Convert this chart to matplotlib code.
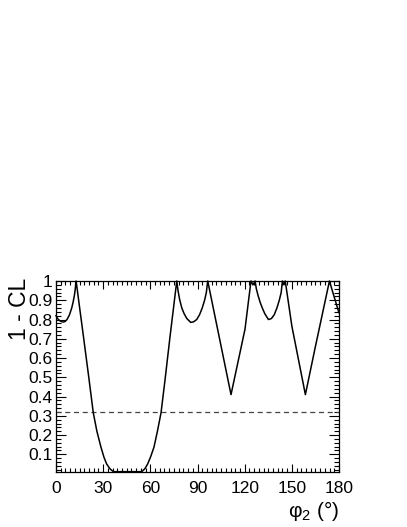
import numpy as np
import matplotlib
matplotlib.use("Agg")
import matplotlib.pyplot as plt
from matplotlib.ticker import MultipleLocator

plt.rcParams['font.family'] = ['Liberation Sans', 'DejaVu Sans']
plt.rcParams['mathtext.fontset'] = 'custom'
plt.rcParams['mathtext.rm'] = 'Liberation Sans'
plt.rcParams['mathtext.it'] = 'Liberation Sans'

# ── data ──
phi2 = [0, 1.0, 2.5, 3.8, 4.8, 5.8, 7.0, 8.5, 10.0, 11.0, 11.9, 12.8, 14.8,
        17.0, 19.0, 21.0, 23.7, 26.0, 28.6, 30.5, 32.2, 34.3, 36.5, 54.5,
        56.5, 58.3, 60.3, 62.3, 64.5, 66.8, 69.3, 72.5, 76.8, 77.6, 78.6,
        80.0, 81.5, 83.2, 85.7, 87.5, 89.5, 91.3, 93.0, 94.5, 95.6, 96.5,
        111.3, 120.2, 124.0, 125.3, 126.6, 127.4, 128.5, 129.8, 131.2, 132.8,
        135.1, 137.0, 138.8, 140.5, 142.0, 143.2, 144.0, 145.0, 145.8, 150.0,
        158.6, 164.8, 173.9, 179.6, 180]
one_minus_cl = [0.82, 0.805, 0.793, 0.788, 0.787, 0.79, 0.80, 0.823, 0.86, 0.895,
                0.935, 1.0, 0.875, 0.74, 0.615, 0.49, 0.316, 0.22, 0.137,
                0.085, 0.05, 0.025, 0.01, 0.01, 0.025, 0.05, 0.09, 0.137, 0.22,
                0.316, 0.484, 0.71, 1.0, 0.95, 0.905, 0.86, 0.83, 0.805, 0.785,
                0.788, 0.80, 0.825, 0.86, 0.9, 0.94, 1.0, 0.41, 0.75, 1.0, 0.98,
                1.0, 0.96, 0.925, 0.89, 0.86, 0.83, 0.80, 0.805, 0.825, 0.86,
                0.9, 0.94, 1.0, 0.98, 1.0, 0.766, 0.41, 0.653, 1.0, 0.844, 0.835]
one_sigma = 0.3173

xticks = [0, 30, 60, 90, 120, 150, 180]
yticks = [0.1, 0.2, 0.3, 0.4, 0.5, 0.6, 0.7, 0.8, 0.9, 1.0]
ytick_labels = ['0.1', '0.2', '0.3', '0.4', '0.5', '0.6', '0.7', '0.8', '0.9', '1']

# ── plot ──
fig = plt.figure(figsize=(4.07, 5.27), dpi=100)
ax = fig.add_axes([0.1376, 0.105, 0.6954, 0.3618])

ax.plot(phi2, one_minus_cl, color='black', linewidth=1.1, clip_on=False, zorder=3)
ax.axhline(one_sigma, color='#444444', linewidth=0.9, linestyle=(0, (4, 3)))

ax.set_xlim(0, 180)
ax.set_ylim(0.01, 1.0)
ax.set_xticks(xticks)
ax.set_yticks(yticks)
ax.set_yticklabels(ytick_labels)
ax.xaxis.set_minor_locator(MultipleLocator(3))
ax.yaxis.set_minor_locator(MultipleLocator(0.02))

ax.tick_params(which='both', direction='in', top=True, right=True,
               labelsize=12.5, width=0.8)
ax.tick_params(axis='y', which='major', length=7, pad=2.5)
ax.tick_params(axis='y', which='minor', length=3.5)
ax.tick_params(axis='x', which='major', length=6, pad=7)
ax.tick_params(axis='x', which='minor', length=3)
for sp in ax.spines.values():
    sp.set_linewidth(0.9)

ax.set_ylabel('1 - CL', fontsize=16.5, loc='top')
ax.yaxis.set_label_coords(-0.09, 1.015)
ax.set_xlabel('φ$_{2}$ (°)', fontsize=15, loc='right', labelpad=2)

plt.savefig('out.png', dpi=100)
